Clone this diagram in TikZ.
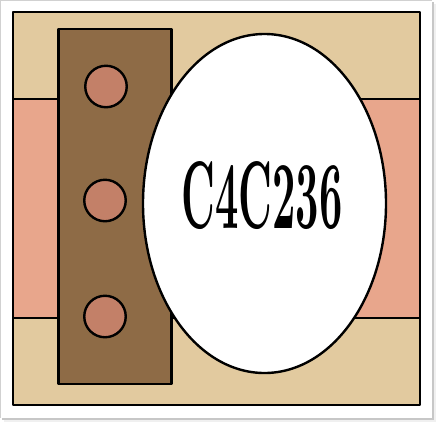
\documentclass[tikz,border=0pt]{standalone}
\usetikzlibrary{shapes.geometric}
\definecolor{tan}{HTML}{E2CA9F}
\definecolor{pinkband}{HTML}{E8A68C}
\definecolor{brownrect}{HTML}{8E6B46}
\definecolor{dotcol}{HTML}{C38068}
\begin{document}
\begin{tikzpicture}[x=1pt,y=-1pt,
  outline/.style={draw=black,line width=2.4pt,line join=round},
  dot/.style={circle,outline,fill=dotcol,minimum size=41.5pt,inner sep=0pt},
  oval/.style={ellipse,outline,fill=white,minimum width=243pt,minimum height=339pt,inner sep=0pt}]
\useasboundingbox (0,0) rectangle (438,424);
\fill[white] (0,0) rectangle (438,424);
% photo frame shadow
\fill[black!6] (433,4) rectangle (436,422);
\fill[black!6] (4,419.5) rectangle (436,422);
\fill[black!22] (431.5,2) rectangle (433.5,420);
\fill[black!22] (2,417.5) rectangle (433.5,419.5);
\draw[black!18,line width=0.8pt] (0.4,0.4) -- (0.4,418) (0.4,0.4) -- (432,0.4);
% card
\fill[tan] (13,12) rectangle (420,405);
\draw[outline,fill=pinkband] (13,99) rectangle (420,318);
\draw[outline,fill=brownrect] (58.5,29) rectangle (171.5,384);
\node[dot] (d1) at (106,86.5) {};
\node[dot] (d2) at (105,200.5) {};
\node[dot] (d3) at (105,316.5) {};
\node[oval] (oval) at (264.5,203.5) {};
\node (label) at (262,195.5) {\resizebox{161pt}{67pt}{\bfseries C4C236}};
\draw[outline] (13,12) rectangle (420,405);
\end{tikzpicture}
\end{document}
